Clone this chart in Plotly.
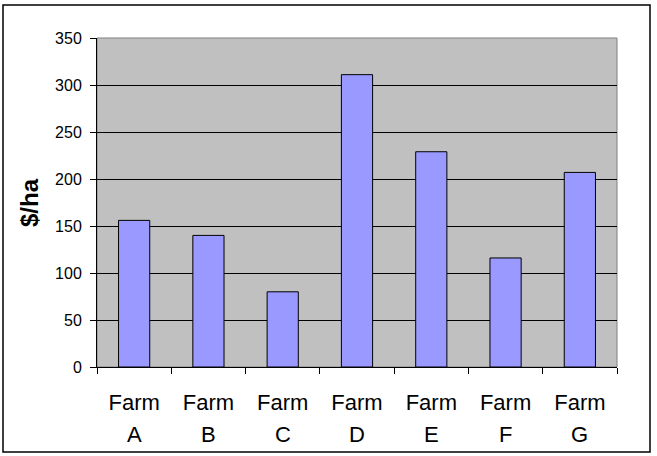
import plotly.graph_objects as go

farm_word = "Farm"
letters = ["A", "B", "C", "D", "E", "F", "G"]
values = [156, 140, 80, 311, 229, 116, 207]
y_title = "$/ha"

W, H = 657, 456
L, R, T, B = 97, 40, 38, 89
pw, ph = W - L - R, H - T - B

def px(x):
    return (x - L) / pw

def py(y):
    return (H - B - y) / ph

fig = go.Figure(go.Bar(
    x=letters, y=values,
    marker=dict(color="#9999FF", line=dict(color="black", width=1)),
    width=0.42,
))

letter_annotations = [
    dict(text=l, x=l, xref="x", yref="paper", y=py(420), xanchor="center",
         yanchor="top", showarrow=False, font=dict(size=22))
    for l in letters
]

fig.update_layout(
    width=W, height=H,
    margin=dict(l=L, r=R, t=T, b=B),
    paper_bgcolor="white",
    plot_bgcolor="#C0C0C0",
    showlegend=False,
    font=dict(family="Arial, Liberation Sans, sans-serif", color="black"),
    xaxis=dict(
        tickmode="array", tickvals=letters, ticktext=[farm_word] * len(letters),
        ticks="outside", tickson="boundaries", ticklen=6, tickcolor="black",
        showline=True, linecolor="black", linewidth=1,
        tickfont=dict(size=22), showgrid=False, ticklabelstandoff=16,
    ),
    yaxis=dict(
        range=[0, 350], dtick=50, ticks="outside", ticklen=6, tickcolor="black",
        showline=True, linecolor="black", linewidth=1,
        gridcolor="black", gridwidth=1.3, tickfont=dict(size=16),
        zeroline=False, ticklabelstandoff=5,
    ),
    shapes=[
        dict(type="rect", xref="paper", yref="paper", x0=0, x1=1, y0=0, y1=1,
             line=dict(color="#808080", width=1), layer="below"),
        dict(type="rect", xref="paper", yref="paper",
             x0=px(3), x1=px(650), y0=py(452), y1=py(5),
             line=dict(color="black", width=1.5)),
    ],
    annotations=letter_annotations + [
        dict(text="<b>" + y_title + "</b>", xref="paper", yref="paper",
             x=px(29), y=py(203), xanchor="center", yanchor="middle",
             textangle=-90, showarrow=False, font=dict(size=24)),
    ],
)

fig.write_html("out.html")
